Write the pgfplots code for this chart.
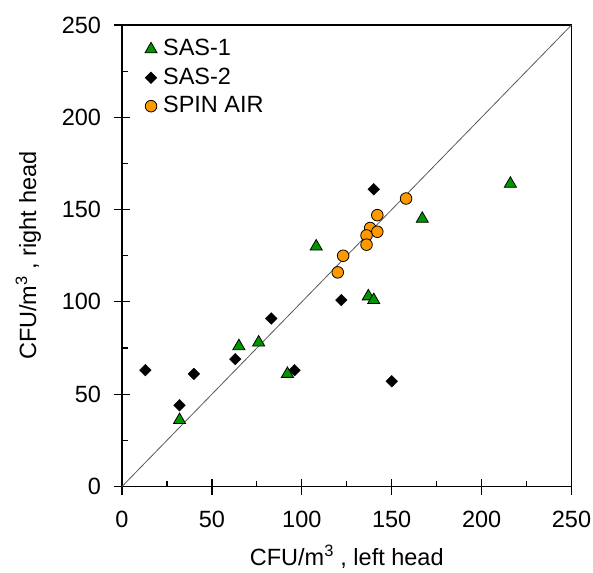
\documentclass[border=0pt]{standalone}
\usepackage{pgfplots}
\pgfplotsset{compat=1.18}
\usepackage{fontspec}
\setmainfont{Liberation Sans}
\definecolor{sasgreen}{RGB}{0,150,0}
\definecolor{spinorange}{RGB}{255,153,0}
\begin{document}
\fontsize{23.5}{27}\selectfont
\begin{tikzpicture}
\begin{axis}[
    name=ax,
    scale only axis,
    width=449.5pt,
    height=461.5pt,
    xmin=0, xmax=250,
    ymin=0, ymax=250,
    xtick={0,50,...,250},
    ytick={0,50,...,250},
    minor tick num=1,
    tick pos=left,
    tick align=inside,
    major tick length=8pt,
    minor tick length=6pt,
    extra x ticks={0,50,...,250},
    extra y ticks={0,50,...,250},
    extra x tick labels={},
    extra y tick labels={},
    extra tick style={tick align=outside, major tick length=8pt},
    axis line style={line width=1.6pt},
    tick style={line width=1.2pt, black},
    /pgf/number format/assume math mode=true,
    ticklabel style={font=\fontsize{23.5}{27}\selectfont},
    xticklabel style={anchor=north, yshift=-17pt},
    yticklabel style={anchor=east, xshift=-13pt},
    every axis y label/.style={at={(axis description cs:-0.191,0.5)}, anchor=base, rotate=90},
    every axis x label/.style={at={(axis description cs:0.5,-0.171)}, anchor=base},
    xlabel={CFU/m\textsuperscript{3} , left head},
    ylabel={CFU/m\textsuperscript{3} , right head},
    legend style={draw=none, fill=none, at={(axis description cs:0.044,0.978)}, anchor=north west,
        font=\fontsize{23.5}{27}\selectfont, row sep=4.5pt, column sep=4pt},
    legend cell align=left,
]
\addplot[gray!70!black, line width=0.8pt, forget plot] coordinates {(0,0) (250,250)};
\addplot[only marks, mark=triangle*, mark size=7pt, mark options={fill=sasgreen, draw=black, line width=0.8pt}]
coordinates {
    (32,36) (65,76) (76,78) (92,61) (108,130) (137,103) (140,101) (167,145) (216,164)
};
\addlegendentry{SAS-1}
\addplot[only marks, mark=square*, mark size=4.1pt, mark options={rotate=45, fill=black, draw=black}]
coordinates {
    (13,63) (32,44) (40,61) (63,69) (83,91) (96,63) (122,101) (150,57) (140,161)
};
\addlegendentry{SAS-2}
\addplot[only marks, mark=*, mark size=5.8pt, mark options={fill=spinorange, draw=black, line width=0.8pt}]
coordinates {
    (158,156) (142,147) (138,140) (142,138) (136,136) (136,131) (123,125) (120,116)
};
\addlegendentry{SPIN AIR}
\end{axis}
\pgfresetboundingbox
\path ([xshift=-122pt,yshift=-85.5pt]ax.south west) rectangle ([xshift=21.5pt,yshift=25pt]ax.north east);
\end{tikzpicture}
\end{document}
